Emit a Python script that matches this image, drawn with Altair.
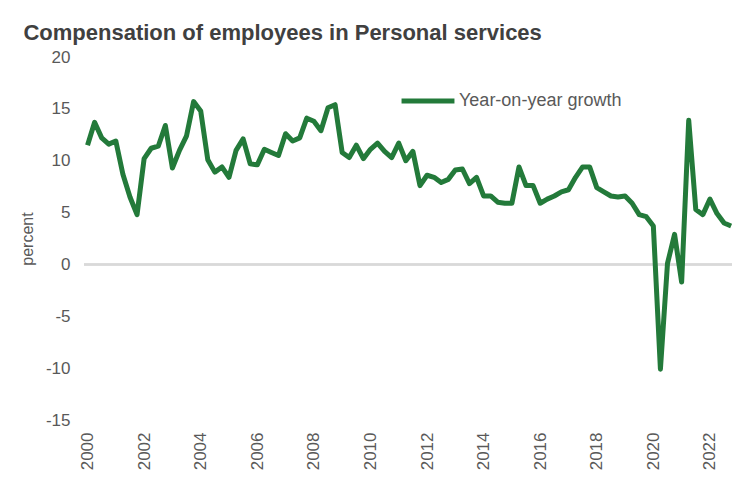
import altair as alt
import pandas as pd

start_year = 2000
series_name = "Year-on-year growth"
growth = [
    11.5, 13.7, 12.2, 11.6, 11.9, 8.7, 6.5, 4.8,
    10.2, 11.2, 11.4, 13.4, 9.3, 11.0, 12.4, 15.7,
    14.8, 10.1, 8.9, 9.4, 8.4, 11.0, 12.1, 9.7,
    9.6, 11.1, 10.8, 10.5, 12.6, 11.9, 12.2, 14.1,
    13.8, 12.9, 15.1, 15.4, 10.8, 10.3, 11.5, 10.2,
    11.1, 11.7, 10.9, 10.3, 11.7, 10.0, 10.9, 7.6,
    8.6, 8.4, 7.9, 8.2, 9.1, 9.2, 7.8, 8.4,
    6.6, 6.6, 6.0, 5.9, 5.9, 9.4, 7.6, 7.6,
    5.9, 6.3, 6.6, 7.0, 7.2, 8.4, 9.4, 9.4,
    7.4, 7.0, 6.6, 6.5, 6.6, 5.9, 4.8, 4.6,
    3.7, -10.1, 0.1, 2.9, -1.7, 13.9, 5.3, 4.8,
    6.3, 4.9, 4.0, 3.7,
]
year_ticks = list(range(2000, 2023, 2))
y_ticks = [-15, -10, -5, 0, 5, 10, 15, 20]

period = [start_year + i // 4 + (i % 4) / 4 for i in range(len(growth))]
df = pd.DataFrame({"period": period, "growth": growth, "series": series_name})

FONT = "Liberation Sans"
GREY = "#595959"

zero = alt.Chart(df).mark_rule(color="#d9d9d9", strokeWidth=1.5).encode(
    y=alt.datum(0)
)

line = alt.Chart(df).mark_line(strokeWidth=5, strokeJoin="round").encode(
    x=alt.X(
        "period:Q",
        scale=alt.Scale(domain=[1999.875, 2022.78], nice=False, zero=False),
        axis=alt.Axis(
            values=year_ticks,
            format="d",
            labelAngle=270,
            labelAlign="right",
            labelBaseline="middle",
            labelPadding=12,
            labelFontSize=17,
            labelColor=GREY,
            labelFont=FONT,
            domain=False,
            ticks=False,
            grid=False,
            title=None,
        ),
    ),
    y=alt.Y(
        "growth:Q",
        scale=alt.Scale(domain=[-15, 20], nice=False),
        axis=alt.Axis(
            values=y_ticks,
            labelExpr="replace(datum.label, '\u2212', '-')",
            labelFontSize=17,
            labelColor=GREY,
            labelFont=FONT,
            labelPadding=14,
            domain=False,
            ticks=False,
            grid=False,
            title="percent",
            titleFont=FONT,
            titleFontSize=16,
            titleFontWeight="normal",
            titleColor=GREY,
            titlePadding=10,
        ),
    ),
    color=alt.Color(
        "series:N",
        scale=alt.Scale(range=["#237a3a"]),
        legend=alt.Legend(
            title=None,
            orient="none",
            legendX=315,
            legendY=15,
            symbolType="stroke",
            symbolSize=2800,
            symbolStrokeWidth=5,
            labelFontSize=18,
            labelColor=GREY,
            labelFont=FONT,
            labelOffset=2,
            labelLimit=400,
        ),
    ),
)

chart = (
    alt.layer(zero, line)
    .properties(
        width=648,
        height=363,
        autosize=alt.AutoSizeParams(type="none"),
        padding={"left": 76, "top": 49, "right": 0, "bottom": 70},
        title=alt.TitleParams(
            "Compensation of employees in Personal services",
            anchor="start",
            dx=4,
            offset=3,
            fontSize=22,
            fontWeight="bold",
            color="#404040",
            font=FONT,
        ),
    )
    .configure_view(strokeWidth=0)
)

chart.save("out.html", embed_options={"renderer": "svg", "actions": False})
